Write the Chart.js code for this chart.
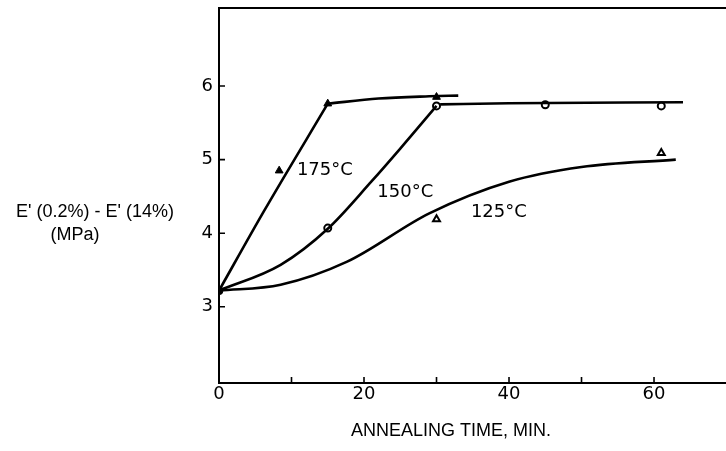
<!DOCTYPE html>
<html>
<head>
<meta charset="utf-8">
<script src="https://cdn.jsdelivr.net/npm/chart.js@4/dist/chart.umd.min.js"></script>
<style>
  html, body { margin: 0; padding: 0; background: #fff; }
  canvas { display: block; }
</style>
</head>
<body>
<canvas id="c" width="726" height="451"></canvas>
<script>
// ---- Data ----
// Hand-drawn curves: rising part and plateau part drawn separately (sharp corner)
const rise175X = [0, 6.2, 15];
const rise175Y = [3.22, 4.3, 5.76];
const flat175X = [15, 22, 29, 33];
const flat175Y = [5.76, 5.83, 5.86, 5.87];
const rise150X = [0, 8.5, 15, 21, 25, 30];
const rise150Y = [3.22, 3.57, 4.06, 4.7, 5.15, 5.73];
const flat150X = [30.5, 40, 64];
const flat150Y = [5.75, 5.765, 5.78];
const curve125X = [0, 8.5, 17.6, 29, 40, 50, 63];
const curve125Y = [3.22, 3.3, 3.61, 4.27, 4.7, 4.9, 5.0];

// Measured points
const pts175X = [8.3, 15, 30];
const pts175Y = [4.85, 5.76, 5.85];
const pts150X = [15, 30, 45, 61];
const pts150Y = [4.07, 5.73, 5.745, 5.73];
const pts125X = [30, 61];
const pts125Y = [4.19, 5.09];
const startX = [0];
const startY = [3.22];

// Curve labels
const curveLabels = ['175°C', '150°C', '125°C'];
const labelX = [14.6, 25.7, 38.6];
const labelY = [4.86, 4.56, 4.29];

// Axes
const xTickValues = [0, 10, 20, 30, 40, 50, 60];
const xLabelValues = [0, 20, 40, 60];
const yTickValues = [3, 4, 5, 6];
const xTitle = 'ANNEALING TIME, MIN.';
const yTitleLines = ["E' (0.2%) - E' (14%)", '(MPa)'];

const zip = (xs, ys) => xs.map((x, i) => ({ x: x, y: ys[i] }));

const curveStyle = {
  showLine: true,
  borderColor: '#000',
  borderWidth: 2.6,
  pointRadius: 0,
  pointHoverRadius: 0,
  cubicInterpolationMode: 'monotone',
  fill: false
};

const frameAndText = {
  id: 'frameAndText',
  afterDatasetsDraw(chart) {
    const ctx = chart.ctx;
    const a = chart.chartArea;
    const xs = chart.scales.x, ys = chart.scales.y;
    const W = chart.width;
    ctx.save();
    ctx.strokeStyle = '#000';
    ctx.lineWidth = 2;
    ctx.lineCap = 'square';
    ctx.beginPath();
    ctx.moveTo(a.left, a.top); ctx.lineTo(W, a.top);
    ctx.moveTo(a.left, a.top); ctx.lineTo(a.left, a.bottom);
    ctx.moveTo(a.left, a.bottom); ctx.lineTo(W, a.bottom);
    ctx.stroke();
    // inward tick marks
    ctx.lineWidth = 1.6;
    ctx.lineCap = 'butt';
    ctx.beginPath();
    yTickValues.forEach(v => {
      const py = ys.getPixelForValue(v);
      ctx.moveTo(a.left, py); ctx.lineTo(a.left + 6, py);
    });
    xTickValues.forEach(v => {
      if (v === 0) return;
      const px = xs.getPixelForValue(v);
      ctx.moveTo(px, a.bottom); ctx.lineTo(px, a.bottom - 6);
    });
    ctx.stroke();
    // curve labels
    ctx.fillStyle = '#000';
    ctx.font = '18px "DejaVu Sans"';
    ctx.textAlign = 'center';
    ctx.textBaseline = 'middle';
    curveLabels.forEach((t, i) => {
      ctx.fillText(t, xs.getPixelForValue(labelX[i]), ys.getPixelForValue(labelY[i]));
    });
    // axis titles
    ctx.font = '18px "Liberation Sans"';
    ctx.textAlign = 'center';
    ctx.fillText(xTitle, 451, 431);
    ctx.fillText(yTitleLines[0], 95, 212);
    ctx.fillText(yTitleLines[1], 75, 235);
    ctx.restore();
  }
};

new Chart(document.getElementById('c'), {
  type: 'scatter',
  data: {
    datasets: [
      Object.assign({ data: zip(rise175X, rise175Y) }, curveStyle),
      Object.assign({ data: zip(flat175X, flat175Y) }, curveStyle),
      Object.assign({ data: zip(rise150X, rise150Y) }, curveStyle),
      Object.assign({ data: zip(flat150X, flat150Y) }, curveStyle),
      Object.assign({ data: zip(curve125X, curve125Y) }, curveStyle),
      {
        data: zip(pts175X, pts175Y),
        showLine: false, pointStyle: 'triangle', pointRadius: 4.5,
        backgroundColor: '#000', borderColor: '#000', borderWidth: 1
      },
      {
        data: zip(pts150X, pts150Y),
        showLine: false, pointStyle: 'circle', pointRadius: 3.5,
        backgroundColor: '#fff', borderColor: '#000', borderWidth: 2
      },
      {
        data: zip(pts125X, pts125Y),
        showLine: false, pointStyle: 'triangle', pointRadius: 4,
        backgroundColor: '#fff', borderColor: '#000', borderWidth: 2
      },
      {
        data: zip(startX, startY),
        showLine: false, pointStyle: 'circle', pointRadius: 4,
        backgroundColor: '#000', borderColor: '#000', borderWidth: 1
      }
    ]
  },
  options: {
    responsive: false,
    animation: false,
    events: [],
    layout: { padding: { top: 8, right: 0, left: 0, bottom: 0 } },
    plugins: { legend: { display: false }, tooltip: { enabled: false } },
    scales: {
      x: {
        type: 'linear',
        min: 0, max: 69.1,
        afterFit(s) { s.height = 68; s.paddingLeft = 0; s.paddingRight = 0; },
        afterBuildTicks(s) { s.ticks = xTickValues.map(v => ({ value: v })); },
        grid: { display: false, drawTicks: false },
        border: { display: false },
        ticks: {
          color: '#000',
          font: { family: '"DejaVu Sans"', size: 18 },
          padding: 1,
          maxRotation: 0,
          autoSkip: false,
          callback: v => xLabelValues.includes(v) ? String(v) : ''
        }
      },
      y: {
        type: 'linear',
        min: 1.965, max: 7.06,
        afterFit(s) { s.width = 219; s.paddingTop = 0; s.paddingBottom = 0; },
        afterBuildTicks(s) { s.ticks = yTickValues.map(v => ({ value: v })); },
        grid: { display: false, drawTicks: false },
        border: { display: false },
        ticks: {
          color: '#000',
          font: { family: '"DejaVu Sans"', size: 18 },
          padding: 6,
          autoSkip: false,
          callback: v => String(v)
        }
      }
    }
  },
  plugins: [frameAndText]
});
</script>
</body>
</html>
